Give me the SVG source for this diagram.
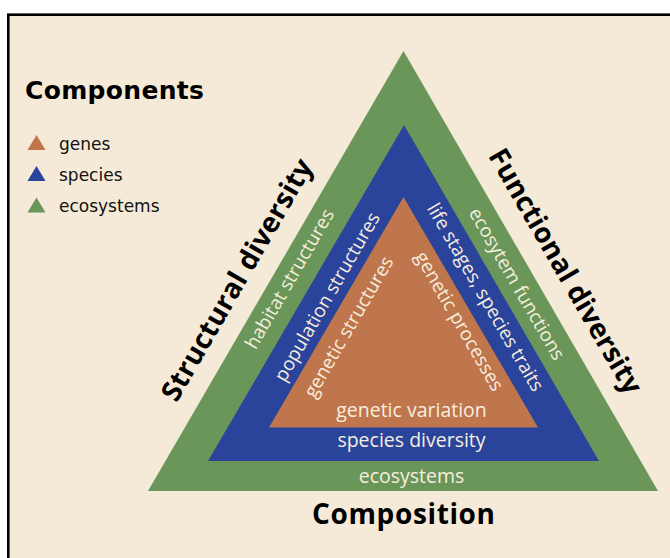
<svg xmlns="http://www.w3.org/2000/svg" width="670" height="558" viewBox="0 0 670 558">
<style>
.lab{font-family:"Open Sans","Noto Sans","Liberation Sans",sans-serif;fill:#F7EEDF;text-anchor:middle}
.side{font-size:19px}
.bot{font-size:19.5px}
.big{font-family:"Open Sans","Noto Sans","Liberation Sans",sans-serif;font-weight:bold;font-size:28px;fill:#000;text-anchor:middle}
.leg{font-family:"DejaVu Sans",sans-serif;font-size:17px;fill:#111}
</style>
<defs>
<path id="tri" d="M0,0 L-9,15 L9,15 Z"/>
</defs>
<rect x="0" y="0" width="670" height="558" fill="#ffffff"/>
<rect x="8.3" y="14.7" width="700" height="600" fill="#F5EAD8" stroke="#000" stroke-width="2.6"/>

<g id="legend">
<text x="25" y="99" font-family="DejaVu Sans, sans-serif" font-weight="bold" font-size="25" fill="#000" textLength="179">Components</text>
<use href="#tri" x="36.5" y="135" fill="#BF764C"/>
<use href="#tri" x="36.5" y="166" fill="#2A449B"/>
<use href="#tri" x="36.5" y="197.5" fill="#6A965A"/>
<text class="leg" x="59" y="150">genes</text>
<text class="leg" x="59" y="181">species</text>
<text class="leg" x="59" y="212">ecosystems</text>
</g>

<g id="ecosystems">
<polygon points="403.5,51 148,491 658,491" fill="#6A965A"/>
<text class="lab bot" x="411.5" y="483">ecosystems</text>
<text class="lab side" transform="translate(290,279) rotate(-60)" x="0" y="6">habitat structures</text>
<text class="lab side" transform="translate(516.5,284) rotate(60)" x="0" y="6">ecosytem functions</text>
</g>

<g id="species">
<polygon points="404,125 208,461 599,461" fill="#2A449B"/>
<text class="lab bot" x="411.5" y="447">species diversity</text>
<text class="lab side" transform="translate(327.5,297) rotate(-60)" x="0" y="6">population structures</text>
<text class="lab side" transform="translate(485,297.5) rotate(60)" x="0" y="6">life stages, species traits</text>
</g>

<g id="genes">
<polygon points="403.5,197 269,427.5 538,427.5" fill="#BF764C"/>
<text class="lab bot" x="411.5" y="416.5">genetic variation</text>
<text class="lab side" transform="translate(349,327) rotate(-60)" x="0" y="6">genetic structures</text>
<text class="lab side" transform="translate(459,321.5) rotate(60)" x="0" y="6">genetic processes</text>
</g>

<g id="axes">
<text class="big" x="403.5" y="523.5" textLength="183">Composition</text>
<text class="big" transform="translate(237.5,280) rotate(-60)" x="0" y="9" textLength="274">Structural diversity</text>
<text class="big" transform="translate(565,271.5) rotate(60)" x="0" y="9" textLength="278">Functional diversity</text>
</g>
</svg>
